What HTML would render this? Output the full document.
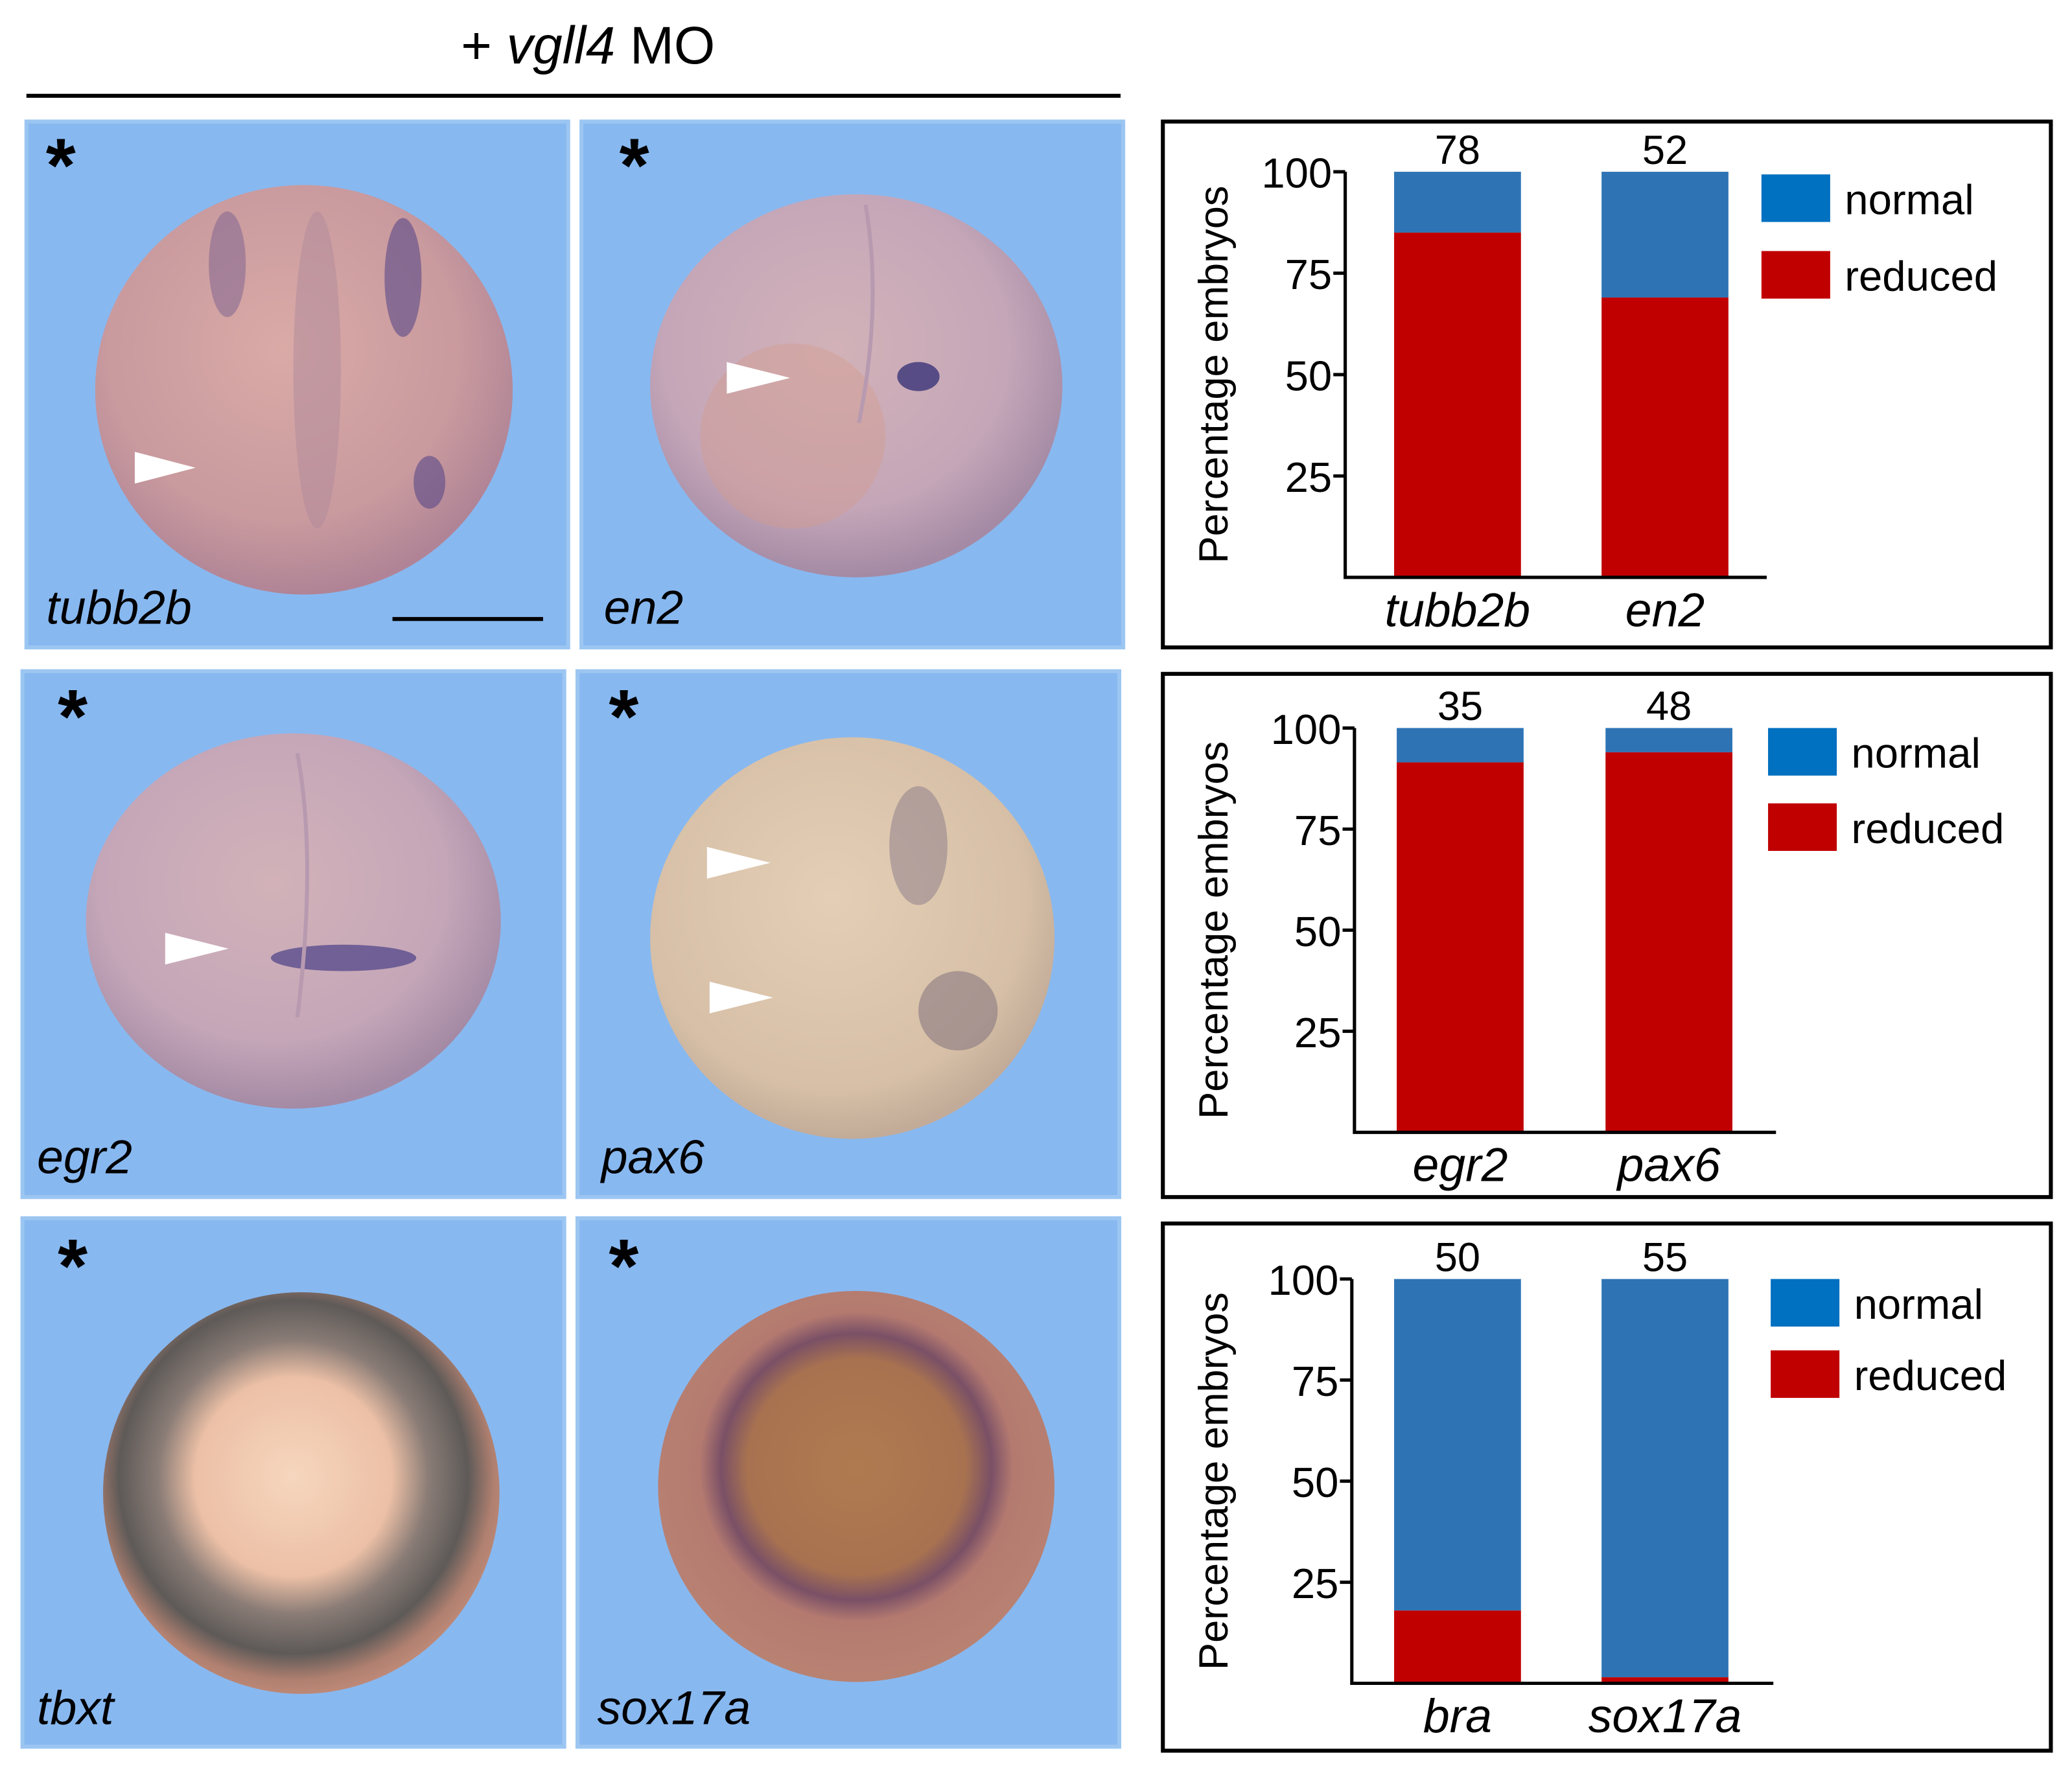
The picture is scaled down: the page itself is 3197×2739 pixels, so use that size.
<!DOCTYPE html>
<html><head><meta charset="utf-8"><style>
html,body{margin:0;padding:0;background:#fff;}
svg{display:block;}
text{font-family:"Liberation Sans",Arial,sans-serif;}
</style></head>
<body>
<svg id="fig" width="3197" height="2739" viewBox="0 0 1568 1343.4" preserveAspectRatio="none" xmlns="http://www.w3.org/2000/svg">
<defs>
<radialGradient id="gPink" cx="45%" cy="40%" r="60%"><stop offset="0" stop-color="#d9aaa6"/><stop offset="0.7" stop-color="#c99a9e"/><stop offset="1" stop-color="#b08496"/></radialGradient>
<radialGradient id="gPink2" cx="45%" cy="40%" r="60%"><stop offset="0" stop-color="#d2b2b8"/><stop offset="0.7" stop-color="#c4a6b8"/><stop offset="1" stop-color="#a48aa4"/></radialGradient>
<radialGradient id="gBeige" cx="45%" cy="40%" r="60%"><stop offset="0" stop-color="#e4cfb6"/><stop offset="0.8" stop-color="#d6bfa6"/><stop offset="1" stop-color="#c2ab98"/></radialGradient>
<radialGradient id="gTbxt" cx="48%" cy="46%" r="55%"><stop offset="0" stop-color="#f6d6be"/><stop offset="0.45" stop-color="#ecc0a6"/><stop offset="0.62" stop-color="#8a7c76"/><stop offset="0.8" stop-color="#5e5a58"/><stop offset="0.92" stop-color="#b08070"/><stop offset="1" stop-color="#c08a78"/></radialGradient>
<radialGradient id="gSox" cx="50%" cy="45%" r="55%"><stop offset="0" stop-color="#b07a50"/><stop offset="0.5" stop-color="#a87250"/><stop offset="0.62" stop-color="#7a5066"/><stop offset="0.72" stop-color="#b47a70"/><stop offset="1" stop-color="#b88272"/></radialGradient>
</defs>

<text x="445" y="48" font-size="40" text-anchor="middle">+ <tspan font-style="italic">vgll4</tspan> MO</text>
<rect x="20" y="71" width="828" height="3" fill="#000"/>

<g>
<g>
<rect x="20" y="92" width="410" height="398" fill="#88b8f0" stroke="#9cc6f2" stroke-width="3"/>
<ellipse cx="230" cy="295" rx="158" ry="155" fill="url(#gPink)"/>
<ellipse cx="172" cy="200" rx="14" ry="40" fill="#7a6090" opacity="0.5"/>
<ellipse cx="240" cy="280" rx="18" ry="120" fill="#b08a9c" opacity="0.5"/>
<ellipse cx="305" cy="210" rx="14" ry="45" fill="#5a4a88" opacity="0.6"/>
<ellipse cx="325" cy="365" rx="12" ry="20" fill="#5a4a88" opacity="0.6"/>
<polygon points="102,342 148,354 102,366" fill="#fff"/>
<text x="46" y="145" font-size="58" font-weight="bold" text-anchor="middle">*</text>
<text x="35" y="472" font-size="36" font-style="italic">tubb2b</text>
<rect x="297" y="467" width="114" height="3" fill="#000"/>
</g>
<g>
<rect x="440" y="92" width="410" height="398" fill="#88b8f0" stroke="#9cc6f2" stroke-width="3"/>
<ellipse cx="648" cy="292" rx="156" ry="145" fill="url(#gPink2)"/>
<ellipse cx="600" cy="330" rx="70" ry="70" fill="#d49a8c" opacity="0.4"/>
<ellipse cx="695" cy="285" rx="16" ry="11" fill="#3a3478" opacity="0.8"/>
<path d="M655 155 Q668 230 650 320" stroke="#b89ab0" stroke-width="3" fill="none"/>
<polygon points="550,274 598,286 550,298" fill="#fff"/>
<text x="480" y="145" font-size="58" font-weight="bold" text-anchor="middle">*</text>
<text x="457" y="472" font-size="36" font-style="italic">en2</text>
</g>
<g>
<rect x="17" y="508" width="410" height="398" fill="#88b8f0" stroke="#9cc6f2" stroke-width="3"/>
<ellipse cx="222" cy="697" rx="157" ry="142" fill="url(#gPink2)"/>
<ellipse cx="260" cy="725" rx="55" ry="10" fill="#4a4088" opacity="0.7"/>
<path d="M225 570 Q240 650 225 770" stroke="#b89ab0" stroke-width="3" fill="none"/>
<polygon points="125,706 173,718 125,730" fill="#fff"/>
<text x="55" y="562" font-size="58" font-weight="bold" text-anchor="middle">*</text>
<text x="28" y="888" font-size="36" font-style="italic">egr2</text>
</g>
<g>
<rect x="437" y="508" width="410" height="398" fill="#88b8f0" stroke="#9cc6f2" stroke-width="3"/>
<ellipse cx="645" cy="710" rx="153" ry="152" fill="url(#gBeige)"/>
<ellipse cx="695" cy="640" rx="22" ry="45" fill="#8a7a8a" opacity="0.5"/>
<ellipse cx="725" cy="765" rx="30" ry="30" fill="#7a6a7a" opacity="0.5"/>
<polygon points="535,641 583,653 535,665" fill="#fff"/>
<polygon points="537,743 585,755 537,767" fill="#fff"/>
<text x="472" y="562" font-size="58" font-weight="bold" text-anchor="middle">*</text>
<text x="455" y="888" font-size="36" font-style="italic">pax6</text>
</g>
<g>
<rect x="17" y="922" width="410" height="400" fill="#88b8f0" stroke="#9cc6f2" stroke-width="3"/>
<ellipse cx="228" cy="1130" rx="150" ry="152" fill="url(#gTbxt)"/>
<text x="55" y="978" font-size="58" font-weight="bold" text-anchor="middle">*</text>
<text x="28" y="1305" font-size="36" font-style="italic">tbxt</text>
</g>
<g>
<rect x="437" y="922" width="410" height="400" fill="#88b8f0" stroke="#9cc6f2" stroke-width="3"/>
<ellipse cx="648" cy="1125" rx="150" ry="148" fill="url(#gSox)"/>
<text x="472" y="978" font-size="58" font-weight="bold" text-anchor="middle">*</text>
<text x="452" y="1305" font-size="36" font-style="italic">sox17a</text>
</g>
</g>

<g id="charts"></g>
</svg>
<script>
const catsA = ["tubb2b", "en2"];
const countsA = ["78", "52"];
const reducedA = [85, 69];
const catsB = ["egr2", "pax6"];
const countsB = ["35", "48"];
const reducedB = [91.5, 94];
const catsC = ["bra", "sox17a"];
const countsC = ["50", "55"];
const reducedC = [18, 1.5];
const yTicks = [25, 50, 75, 100];
const legendLabels = ["normal", "reduced"];

const NS = "http://www.w3.org/2000/svg";
const root = document.getElementById("charts");
function mk(tag, attrs, parent) {
  const e = document.createElementNS(NS, tag);
  for (const k in attrs) e.setAttribute(k, attrs[k]);
  parent.appendChild(e);
  return e;
}
const layouts = [
  {box:[880,92,672,398], axX:1018, top:130, bot:437, bars:[1055,1212], lx:1333, ly:[132,190]},
  {box:[880,510,672,396], axX:1025, top:551, bot:857, bars:[1057,1215], lx:1338, ly:[551,608]},
  {box:[880,926,672,399], axX:1023, top:968, bot:1274, bars:[1055,1212], lx:1340, ly:[968,1022]}
];
const datasets = [[catsA,countsA,reducedA],[catsB,countsB,reducedB],[catsC,countsC,reducedC]];
datasets.forEach((ds, i) => {
  const L = layouts[i];
  const [cats, counts, red] = ds;
  const g = mk("g", {}, root);
  
  
  const y = v => L.bot - (v/100)*(L.bot - L.top);
  const fr = mk("rect", {x:L.box[0], y:L.box[1], width:L.box[2], height:L.box[3], fill:"none", stroke:"#000", "stroke-width":3}, g);
  
  
  cats.forEach((c, j) => {
    const bx = L.bars[j], bw = 96;
    const nb = mk("rect", {x:bx, y:y(100), width:bw, height:y(red[j]) - y(100), fill:"#2e74b5"}, g);
    
    
    const rb = mk("rect", {x:bx, y:y(red[j]), width:bw, height:y(0) - y(red[j]), fill:"#c00000"}, g);
    
    
    const nt = mk("text", {x:bx+bw/2, y:L.top-6, "font-size":31, "text-anchor":"middle"}, g);
    nt.textContent = counts[j];
    
    
    const ct = mk("text", {x:bx+bw/2, y:L.bot+37, "font-size":36, "font-style":"italic", "text-anchor":"middle"}, g);
    ct.textContent = c;
    
    
  });
  const ax = mk("path", {d:`M${L.axX} ${L.top} V${L.bot} H${L.axX+319}`, stroke:"#000", "stroke-width":2.5, fill:"none"}, g);
  
  
  yTicks.forEach(t => {
    const tk = mk("line", {x1:L.axX-9, x2:L.axX, y1:y(t), y2:y(t), stroke:"#000", "stroke-width":2.5}, g);
    
    
    const tl = mk("text", {x:L.axX-10, y:y(t)+12, "font-size":32, "text-anchor":"end"}, g);
    tl.textContent = String(t);
    
    
  });
  const yt = mk("text", {x:0, y:0, "font-size":31, "text-anchor":"middle", transform:`translate(${L.box[0]+49} ${(L.top+L.bot)/2}) rotate(-90)`}, g);
  yt.textContent = "Percentage embryos";
  
  
  const colors = ["#0070c0", "#c00000"];
  legendLabels.forEach((lab, k) => {
    const sw = mk("rect", {x:L.lx, y:L.ly[k], width:52, height:36, fill:colors[k]}, g);
    
    
    const lt = mk("text", {x:L.lx+63, y:L.ly[k]+30, "font-size":32}, g);
    lt.textContent = lab;
    
    
  });
});
</script>
</body></html>
